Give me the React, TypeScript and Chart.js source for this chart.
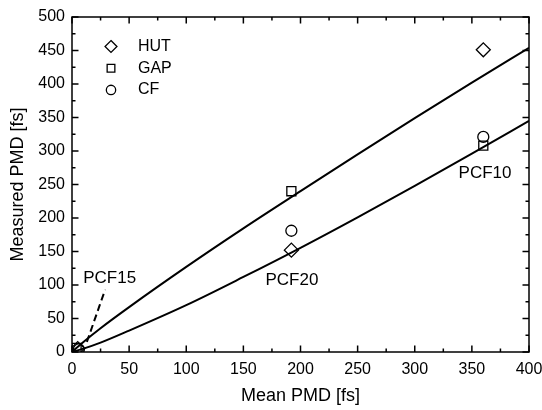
import React, { useEffect, useRef } from 'react';
import { Chart, registerables } from 'chart.js';

Chart.register(...registerables);

// Measured points
const hutX = [5, 192, 360];
const hutY = [5, 152, 451];
const gapX = [4, 192, 360];
const gapY = [6, 240, 308];
const cfX = [6, 192, 360];
const cfY = [4, 181, 321];

// Curves
const upperX = [0, 10, 25, 50, 100, 150, 200, 250, 300, 350, 400];
const upperY = [0, 15, 35.5, 67, 127, 184.5, 240, 295, 349, 402, 454];
const lowerX = [0, 10, 25, 50, 100, 150, 200, 250, 300, 350, 400];
const lowerY = [0, 5, 14, 32, 70, 112, 155.5, 201, 248, 296, 345];
const dashX = [13, 29];
const dashY = [15, 93];

// Labels
const legendLabels = ['HUT', 'GAP', 'CF'];
const annoText = ['PCF15', 'PCF20', 'PCF10'];
const annoX = [33, 192.5, 361.5];
const annoY = [110, 107, 267];

const xMin = 0, xMax = 400, xStep = 50;
const yMin = 0, yMax = 500, yStep = 50;

const FONT = '"Liberation Sans", Arial, Helvetica, sans-serif';

const pts = (xs: number[], ys: number[]) => xs.map((x, i) => ({ x, y: ys[i] }));

function drawMarker(ctx: CanvasRenderingContext2D, style: string, x: number, y: number, r: number) {
  ctx.beginPath();
  if (style === 'rectRot') {
    ctx.moveTo(x, y - r);
    ctx.lineTo(x + r, y);
    ctx.lineTo(x, y + r);
    ctx.lineTo(x - r, y);
    ctx.closePath();
  } else if (style === 'rect') {
    const s = r * Math.SQRT1_2;
    ctx.rect(x - s, y - s, 2 * s, 2 * s);
  } else {
    ctx.arc(x, y, r, 0, Math.PI * 2);
  }
  ctx.stroke();
}

const markerStyles = ['rectRot', 'rect', 'circle'];
const markerRadii = [7, 6.4, 5.5];

const framePlugin = {
  id: 'frame',
  afterDraw(chart: any) {
    const { ctx, chartArea: a, scales } = chart;
    const xs = scales.x, ys = scales.y;
    ctx.save();
    ctx.strokeStyle = '#000';
    ctx.lineWidth = 1.5;
    ctx.strokeRect(a.left, a.top, a.right - a.left, a.bottom - a.top);
    ctx.beginPath();
    for (let v = xMin; v <= xMax + 1e-9; v += xStep / 2) {
      const major = Math.abs((v / xStep) - Math.round(v / xStep)) < 1e-9;
      const len = major ? 6.5 : 3.5;
      const px = xs.getPixelForValue(v);
      ctx.moveTo(px, a.bottom); ctx.lineTo(px, a.bottom - len);
      ctx.moveTo(px, a.top); ctx.lineTo(px, a.top + len);
    }
    for (let v = yMin; v <= yMax + 1e-9; v += yStep / 2) {
      const major = Math.abs((v / yStep) - Math.round(v / yStep)) < 1e-9;
      const len = major ? 6.5 : 3.5;
      const py = ys.getPixelForValue(v);
      ctx.moveTo(a.left, py); ctx.lineTo(a.left + len, py);
      ctx.moveTo(a.right, py); ctx.lineTo(a.right - len, py);
    }
    ctx.stroke();

    // legend
    ctx.lineWidth = 1.3;
    ctx.fillStyle = '#000';
    ctx.font = `16px ${FONT}`;
    ctx.textBaseline = 'middle';
    ctx.textAlign = 'left';
    const lx = a.left + 39, tx = a.left + 66;
    legendLabels.forEach((lab, i) => {
      const ly = a.top + 29.5 + i * 21.7;
      drawMarker(ctx, markerStyles[i], lx, ly, markerRadii[i] * 0.85);
      ctx.fillText(lab, tx, ly);
    });

    // annotations
    ctx.font = `17px ${FONT}`;
    ctx.textAlign = 'center';
    annoText.forEach((t, i) => {
      ctx.fillText(t, xs.getPixelForValue(annoX[i]), ys.getPixelForValue(annoY[i]));
    });
    ctx.restore();
  },
};

export default function App() {
  const ref = useRef<HTMLCanvasElement | null>(null);
  useEffect(() => {
    if (!ref.current) return;
    const lineDs = (xs: number[], ys: number[], dash: number[] = []) => ({
      type: 'line' as const,
      data: pts(xs, ys),
      showLine: true,
      borderColor: '#000',
      borderWidth: 2,
      borderDash: dash,
      pointRadius: 0,
      fill: false,
      cubicInterpolationMode: 'monotone' as const,
      clip: 0,
    });
    const markDs = (xs: number[], ys: number[], i: number) => ({
      type: 'scatter' as const,
      data: pts(xs, ys),
      pointStyle: markerStyles[i],
      pointRadius: markerRadii[i],
      pointBorderColor: '#000',
      pointBackgroundColor: 'rgba(0,0,0,0)',
      pointBorderWidth: 1.3,
      showLine: false,
      clip: 0,
    });
    const chart = new Chart(ref.current, {
      type: 'scatter',
      data: {
        datasets: [
          lineDs(upperX, upperY),
          lineDs(lowerX, lowerY),
          lineDs(dashX, dashY, [7, 4]),
          markDs(hutX, hutY, 0),
          markDs(gapX, gapY, 1),
          markDs(cfX, cfY, 2),
        ] as any,
      },
      options: {
        animation: false,
        responsive: false,
        devicePixelRatio: 1,
        layout: { padding: { left: 0, right: 0, top: 17, bottom: 0 } },
        plugins: { legend: { display: false }, tooltip: { enabled: false } },
        scales: {
          x: {
            type: 'linear',
            min: xMin,
            max: xMax,
            grid: { display: false, drawTicks: false },
            border: { display: false },
            ticks: { stepSize: xStep, color: '#000', font: { size: 16, family: FONT }, padding: 8, maxRotation: 0 },
            title: { display: true, text: 'Mean PMD [fs]', color: '#000', font: { size: 18, family: FONT }, padding: { top: 0, bottom: 3 } },
            afterFit: (s: any) => { s.height = 58; s.paddingRight = 13; s.paddingLeft = 0; },
          },
          y: {
            type: 'linear',
            min: yMin,
            max: yMax,
            grid: { display: false, drawTicks: false },
            border: { display: false },
            ticks: { stepSize: yStep, color: '#000', font: { size: 16, family: FONT }, padding: 7 },
            title: { display: true, text: 'Measured PMD [fs]', color: '#000', font: { size: 18, family: FONT }, padding: { top: 7, bottom: 0 } },
            afterFit: (s: any) => { s.width = 72; s.paddingTop = 0; s.paddingBottom = 0; },
          },
        },
      },
      plugins: [framePlugin],
    });
    return () => chart.destroy();
  }, []);
  return (
    <div style={{ position: 'absolute', left: 0, top: 0, width: 542, height: 410, background: '#fff' }}>
      <canvas ref={ref} width={542} height={410} style={{ width: 542, height: 410, display: 'block' }} />
    </div>
  );
}
